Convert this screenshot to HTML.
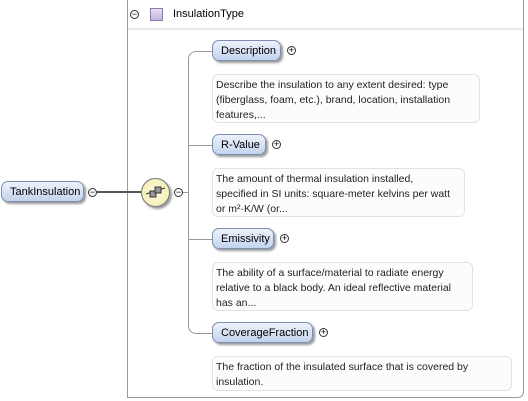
<!DOCTYPE html>
<html><head><style>
body{margin:0;width:528px;height:401px;background:#fff;position:relative;overflow:hidden;font-family:"Liberation Sans",sans-serif;font-size:11px;color:#000}
.a{position:absolute}
.node{position:absolute;height:21px;line-height:21px;border:1px solid #7d8fb0;border-radius:7px;background:linear-gradient(#eef3fb,#c3d3ee);box-shadow:2px 2px 2px #999;padding:0 8px;box-sizing:border-box;white-space:nowrap}
.doc{position:absolute;border:1px solid #e2e2e2;border-radius:6px;background:#fcfcfc;padding:3px 3px;box-sizing:border-box;line-height:15px;font-size:10.5px;color:#222;white-space:nowrap}
.pm{position:absolute;width:9px;height:9px;border:1px solid #333;border-radius:50%;box-sizing:border-box;background:#fff;font-size:9px;line-height:7px;text-align:center}
.h{position:absolute;height:1px;background:#999}
</style></head><body>
<div class="a" style="left:127px;top:-2px;width:397px;height:400px;border:1px solid #999;border-radius:0 0 6px 0;box-sizing:border-box"></div>
<div class="a" style="left:128px;top:28px;width:395px;height:3px;background:linear-gradient(#ddd,#fff)"></div>
<div class="pm" style="left:130px;top:10px">−</div>
<div class="a" style="left:150px;top:8px;width:13px;height:13px;border:1px solid #8a78b0;background:linear-gradient(#e7def4,#c3b3e0);box-sizing:border-box"></div>
<div class="a" style="left:173px;top:8px">InsulationType</div>

<div class="node" style="left:1px;top:181px;width:83px">TankInsulation</div>
<div class="pm" style="left:88px;top:188px">−</div>
<div class="a" style="left:97px;top:191px;width:45px;height:2px;background:#555"></div>
<div class="a" style="left:141px;top:178px;width:29px;height:29px;border:1px solid #777;border-radius:50%;background:radial-gradient(#fffde0,#f1e9a8);box-shadow:2px 2px 2px #999;box-sizing:border-box"></div>
<svg class="a" style="left:145px;top:183px" width="21" height="19"><line x1="1" y1="11" x2="20" y2="5" stroke="#333"/><rect x="5" y="8" width="6" height="6" fill="#999" stroke="#333"/><rect x="10" y="4" width="6" height="6" fill="#999" stroke="#333"/></svg>
<div class="pm" style="left:174px;top:188px">−</div>
<div class="h" style="left:183px;top:192px;width:5px"></div>

<div class="a" style="left:188px;top:51px;width:24px;height:283px;border-left:1px solid #999;border-top:1px solid #999;border-bottom:1px solid #999;border-radius:8px 0 0 8px;box-sizing:border-box"></div>
<div class="h" style="left:188px;top:145px;width:24px"></div>
<div class="h" style="left:188px;top:239px;width:24px"></div>

<div class="node" style="left:212px;top:40px;width:69px">Description</div>
<div class="pm" style="left:287px;top:46px">+</div>
<div class="doc" style="left:212px;top:74px;width:268px;height:49px">Describe the insulation to any extent desired: type<br>(fiberglass, foam, etc.), brand, location, installation<br>features,...</div>

<div class="node" style="left:212px;top:134px;width:54px">R-Value</div>
<div class="pm" style="left:272px;top:140px">+</div>
<div class="doc" style="left:212px;top:168px;width:253px;height:49px">The amount of thermal insulation installed,<br>specified in SI units: square-meter kelvins per watt<br>or m²·K/W (or...</div>

<div class="node" style="left:212px;top:228px;width:62px">Emissivity</div>
<div class="pm" style="left:280px;top:234px">+</div>
<div class="doc" style="left:212px;top:262px;width:261px;height:49px">The ability of a surface/material to radiate energy<br>relative to a black body. An ideal reflective material<br>has an...</div>

<div class="node" style="left:212px;top:322px;width:101px">CoverageFraction</div>
<div class="pm" style="left:319px;top:328px">+</div>
<div class="doc" style="left:212px;top:356px;width:300px;height:35px">The fraction of the insulated surface that is covered by<br>insulation.</div>
</body></html>
